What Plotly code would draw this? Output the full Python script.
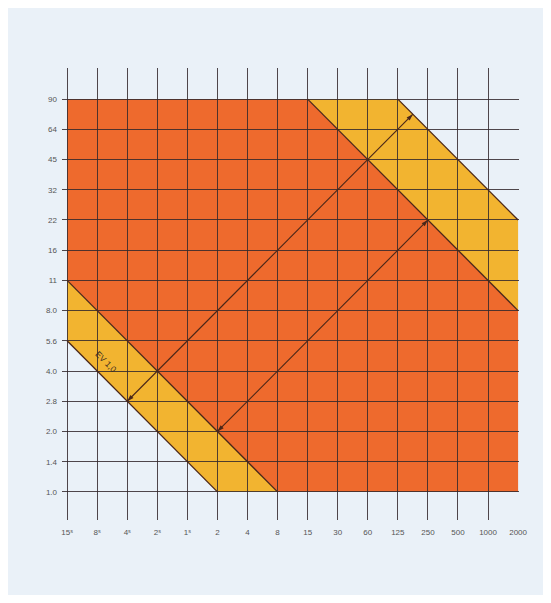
import plotly.graph_objects as go

# ---- data ----
speeds = ["15s", "8s", "4s", "2s", "1s", "2", "4", "8", "15", "30",
          "60", "125", "250", "500", "1000", "2000"]
apertures = ["1.0", "1.4", "2.0", "2.8", "4.0", "5.6", "8.0", "11",
             "16", "22", "32", "45", "64", "90"]

# regions as (shutter speed, aperture) vertices
orange_region = [("15s", "11"), ("15s", "90"), ("15", "90"),
                 ("2000", "8.0"), ("2000", "1.0"), ("8", "1.0")]
yellow_upper = [("15", "90"), ("125", "90"), ("2000", "22"), ("2000", "8.0")]
yellow_lower = [("15s", "11"), ("8", "1.0"), ("2", "1.0"), ("15s", "5.6")]

# boundary lines (constant exposure value)
ev_lines = [(("15s", "11"), ("8", "1.0")),
            (("15s", "5.6"), ("2", "1.0")),
            (("15", "90"), ("2000", "8.0")),
            (("125", "90"), ("2000", "22"))]

# double arrows: start point, and index of the EV line where they end
arrows = [(("4s", "2.8"), 3), (("2", "2.0"), 2)]

ev_label = "EV 1,0"
ev_label_pos = ("15s", "5.6")

# ---- helpers ----
xi = {s: i for i, s in enumerate(speeds)}
yi = {a: i for i, a in enumerate(apertures)}


def pt(p):
    return xi[p[0]], yi[p[1]]


def tick_text(s):
    return s[:-1] + "\u02e2" if s.endswith("s") else s


ORANGE = "#ee6a2d"
YELLOW = "#f2b430"
LINE = "#4a2618"
GRID = "rgba(50,40,45,0.85)"
BG = "#eaf1f8"

fig = go.Figure()

shapes = []
for poly, col in [(orange_region, ORANGE), (yellow_upper, YELLOW), (yellow_lower, YELLOW)]:
    pts = [pt(p) for p in poly]
    path = "M " + " L ".join(f"{x},{y}" for x, y in pts) + " Z"
    shapes.append(dict(type="path", path=path, xref="x", yref="y",
                       fillcolor=col, line=dict(width=0), layer="below"))

for a, b in ev_lines:
    (x0, y0), (x1, y1) = pt(a), pt(b)
    fig.add_trace(go.Scatter(x=[x0, x1], y=[y0, y1], mode="lines",
                             line=dict(color=LINE, width=1.3),
                             hoverinfo="skip", showlegend=False))

for start, li in arrows:
    sx, sy = pt(start)
    ax0, ay0 = pt(ev_lines[li][0])
    ev_sum = ax0 + ay0  # line x + y = const
    d = sy - sx         # arrow along y = x + d
    ex = (ev_sum - d) / 2
    ey = ex + d
    fig.add_trace(go.Scatter(x=[sx, ex], y=[sy, ey], mode="lines+markers",
                             line=dict(color=LINE, width=1.1),
                             marker=dict(symbol="arrow", size=7, color=LINE,
                                         angle=[225, 45], standoff=0),
                             hoverinfo="skip", showlegend=False))

lx, ly = pt(ev_label_pos)
annotations = [dict(x=lx + 1.3, y=ly - 0.7, xref="x", yref="y", text=ev_label,
                    showarrow=False, textangle=45,
                    font=dict(size=8.5, color="#3a2a20",
                              family="Liberation Sans, Arial, sans-serif"))]

fig.update_layout(
    width=535, height=587,
    margin=dict(l=54, r=24, t=60, b=75),
    paper_bgcolor=BG, plot_bgcolor=BG,
    shapes=shapes, annotations=annotations,
    font=dict(family="Liberation Sans, Arial, sans-serif", size=8, color="#555"),
    xaxis=dict(range=[-0.17, 15.03], tickmode="array",
               tickvals=list(range(len(speeds))),
               ticktext=[tick_text(s) for s in speeds],
               showgrid=True, gridcolor=GRID, gridwidth=1,
               zeroline=False, showline=False, ticks="", ticklabelstandoff=6,
               fixedrange=True),
    yaxis=dict(range=[-0.93, 14.03], tickmode="array",
               tickvals=list(range(len(apertures))),
               ticktext=apertures,
               showgrid=True, gridcolor=GRID, gridwidth=1,
               zeroline=False, showline=False, ticks="", ticklabelstandoff=4,
               fixedrange=True),
    showlegend=False,
)

fig.write_html("out.html")
